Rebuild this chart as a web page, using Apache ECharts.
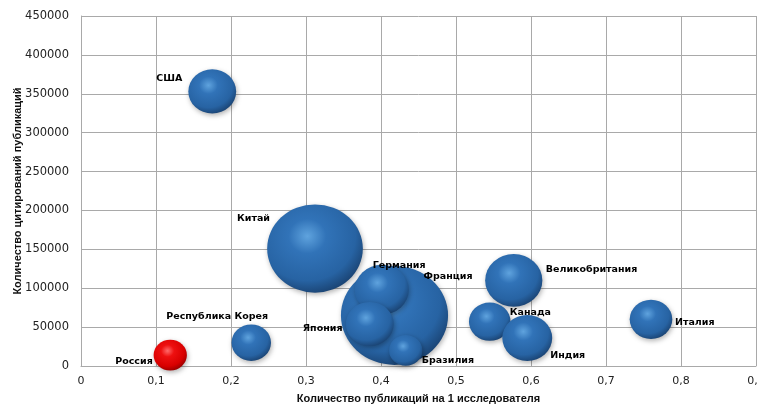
<!DOCTYPE html>
<html>
<head>
<meta charset="utf-8">
<script src="https://cdn.jsdelivr.net/npm/echarts@6/dist/echarts.min.js"></script>
<style>
  html, body { margin: 0; padding: 0; background: #fff; }
  #chart { width: 757px; height: 407px; }
</style>
</head>
<body>
<div id="chart"></div>
<script>
// Countries and their indicators
var countries = ['США', 'Китай', 'Франция', 'Германия', 'Япония', 'Бразилия',
                 'Великобритания', 'Канада', 'Индия', 'Италия', 'Республика Корея', 'Россия'];
// Publications per researcher (x)
var pubsPerResearcher = [0.175, 0.312, 0.418, 0.401, 0.385, 0.433, 0.577, 0.545, 0.595, 0.760, 0.227, 0.119];
// Citations of publications (y)
var citations = [353000, 151000, 65000, 98000, 54000, 20000, 110000, 57000, 36000, 60000, 30000, 14000];
// Bubble magnitude (area)
var bubbleValues = [529, 2116, 2652, 676, 529, 256, 756, 400, 576, 420, 361, 256];
// Axis ticks
var xTicks = [0, 0.1, 0.2, 0.3, 0.4, 0.5, 0.6, 0.7, 0.8, 0.9];
var yTicks = [0, 50000, 100000, 150000, 200000, 250000, 300000, 350000, 400000, 450000];

// Label placement relative to bubble centre (pixels)
var labelOffsets = {
  'США': [-56, -13],
  'Китай': [-78, -30],
  'Франция': [29, -39],
  'Германия': [-9, -24],
  'Япония': [-67, 5],
  'Бразилия': [16, 10],
  'Великобритания': [32, -11],
  'Канада': [20, -9],
  'Индия': [23, 18],
  'Италия': [24, 3],
  'Республика Корея': [-85, -26],
  'Россия': [-55, 6]
};

function sphere(light, mid, dark, edge) {
  return new echarts.graphic.RadialGradient(0.42, 0.36, 0.7, [
    { offset: 0, color: light },
    { offset: 0.28, color: mid },
    { offset: 0.72, color: dark },
    { offset: 1, color: edge }
  ]);
}
var blueBall = sphere('#5fa3de', '#3173b8', '#2763a3', '#173c68');
var redBall = sphere('#ff6a6a', '#ee1010', '#d80000', '#8a0000');

var points = countries.map(function (name, i) {
  return {
    name: name,
    value: [pubsPerResearcher[i], citations[i], bubbleValues[i]],
    itemStyle: { color: name === 'Россия' ? redBall : blueBall },
    label: { offset: labelOffsets[name] }
  };
});

var chart = echarts.init(document.getElementById('chart'), null, { renderer: 'canvas' });
var gridColor = '#a9a9a9';

chart.setOption({
  animation: false,
  backgroundColor: '#ffffff',
  grid: { left: 81, right: 1, top: 16, bottom: 41, containLabel: false, outerBoundsMode: 'none' },
  xAxis: {
    type: 'value',
    min: xTicks[0],
    max: xTicks[xTicks.length - 1],
    interval: 0.1,
    name: 'Количество публикаций на 1 исследователя',
    nameLocation: 'middle',
    nameGap: 27,
    nameMoveOverlap: false,
    nameTextStyle: { fontFamily: 'Liberation Sans', fontWeight: 'bold', fontSize: 11, color: '#111' },
    axisLine: { show: true, lineStyle: { color: gridColor } },
    axisTick: { show: false },
    splitLine: { show: true, lineStyle: { color: gridColor, width: 1 } },
    axisLabel: {
      margin: 10,
      fontFamily: 'DejaVu Sans',
      fontSize: 11,
      color: '#222',
      showMaxLabel: true,
      formatter: function (v) {
        return v === 0 ? '0' : v.toFixed(1).replace('.', ',');
      }
    }
  },
  yAxis: {
    type: 'value',
    min: yTicks[0],
    max: yTicks[yTicks.length - 1],
    interval: 50000,
    name: 'Количество цитирований публикаций',
    nameLocation: 'middle',
    nameGap: 58,
    nameMoveOverlap: false,
    nameTextStyle: { fontFamily: 'Liberation Sans', fontWeight: 'bold', fontSize: 11, color: '#111' },
    axisLine: { show: true, lineStyle: { color: gridColor } },
    axisTick: { show: false },
    splitLine: { show: true, lineStyle: { color: gridColor, width: 1 } },
    axisLabel: {
      margin: 12,
      fontFamily: 'DejaVu Sans',
      fontSize: 11.5,
      color: '#222',
      formatter: function (v) { return String(v); }
    }
  },
  series: [{
    type: 'scatter',
    data: points,
    symbol: 'circle',
    symbolSize: function (v) {
      var d = 2 * Math.sqrt(v[2]);
      return [d * 1.04, d * 0.96];
    },
    itemStyle: {
      opacity: 1,
      shadowBlur: 5,
      shadowColor: 'rgba(0,0,0,0.3)',
      shadowOffsetX: 1,
      shadowOffsetY: 2
    },
    label: {
      show: true,
      position: 'inside',
      align: 'left',
      verticalAlign: 'middle',
      formatter: '{b}',
      fontFamily: 'DejaVu Sans',
      fontWeight: 'bold',
      fontSize: 9.5,
      color: '#000'
    },
    emphasis: { disabled: true }
  }]
});
</script>
</body>
</html>
